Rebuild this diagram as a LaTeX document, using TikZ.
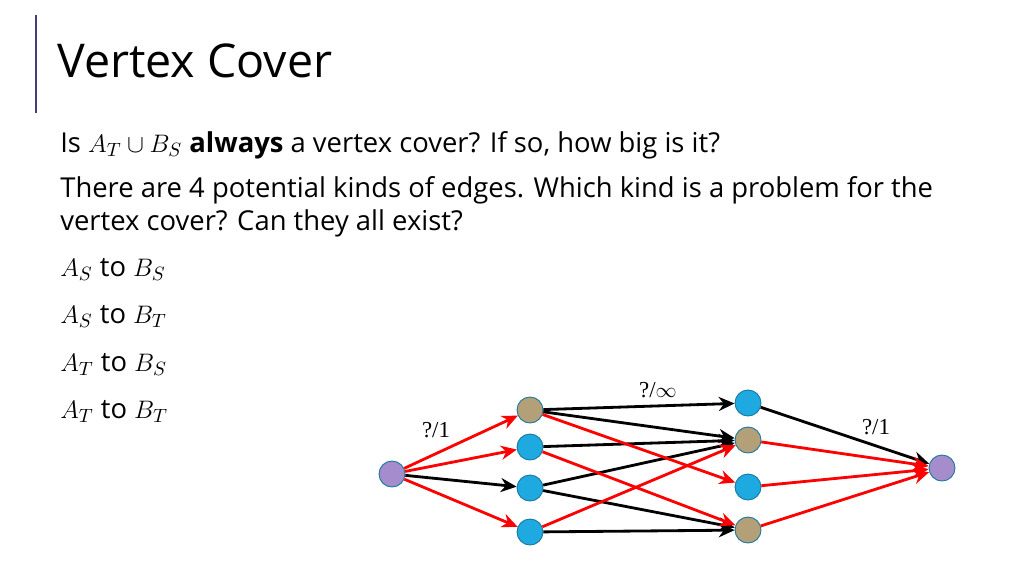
\documentclass[tikz,border=0pt]{standalone}
\usepackage{fontspec}
\setmainfont{Open Sans}
\newfontfamily\labfont{Liberation Serif}
\usetikzlibrary{arrows.meta}

\definecolor{vblue}{RGB}{30,170,225}
\definecolor{vtan}{RGB}{180,160,120}
\definecolor{vpurple}{RGB}{165,140,205}
\definecolor{vline}{RGB}{70,60,120}

\tikzset{
  vert/.style={circle,draw=vblue!70!black,line width=0.5pt,minimum size=26*0.02cm,inner sep=0pt},
  redge/.style={red,line width=1.6pt,-{Stealth[length=9pt,width=8pt]}},
  bedge/.style={black,line width=1.6pt,-{Stealth[length=9pt,width=8pt]}},
  body/.style={anchor=base west,inner sep=0pt,font=\fontsize{15.6}{18}\selectfont}
}

\begin{document}
\begin{tikzpicture}[x=0.02cm,y=-0.02cm]
\useasboundingbox (0,0) rectangle (1024,576);

\draw[vline,line width=1.2pt] (36,15) -- (36,113);
\node[anchor=base west,inner sep=0pt,font=\fontsize{26.5}{30}\selectfont] (title) at (57,77) {Vertex Cover};

\node[body] (q1) at (60,152) {Is $A_T\cup B_S$ \textbf{always} a vertex cover? If so, how big is it?};
\node[body] (q2) at (60,197) {There are 4 potential kinds of edges. Which kind is a problem for the};
\node[body] (q3) at (60,230) {vertex cover? Can they all exist?};
\node[body] (k1) at (60,276) {$A_S$ to $B_S$};
\node[body] (k2) at (60,323) {$A_S$ to $B_T$};
\node[body] (k3) at (60,371) {$A_T$ to $B_S$};
\node[body] (k4) at (60,418) {$A_T$ to $B_T$};

% vertices
\node[vert,fill=vpurple] (s) at (392,474) {};
\node[vert,fill=vtan] (a1) at (530,410) {};
\node[vert,fill=vblue] (a2) at (530,447) {};
\node[vert,fill=vblue] (a3) at (530,488) {};
\node[vert,fill=vblue] (a4) at (530,532) {};
\node[vert,fill=vblue] (b1) at (748,403) {};
\node[vert,fill=vtan] (b2) at (748,440) {};
\node[vert,fill=vblue] (b3) at (748,487) {};
\node[vert,fill=vtan] (b4) at (748,530) {};
\node[vert,fill=vpurple] (t) at (942,468) {};

% edges
\foreach \a in {a1,a2,a4} \draw[redge] (s) -- (\a);
\draw[bedge] (s) -- (a3);
\draw[bedge] (a1) -- (b1);
\draw[bedge] (a1) -- (b2);
\draw[bedge] (a2) -- (b2);
\draw[bedge] (a3) -- (b2);
\draw[bedge] (a3) -- (b4);
\draw[bedge] (a4) -- (b4);
\draw[redge] (a1) -- (b3);
\draw[redge] (a2) -- (b4);
\draw[redge] (a4) -- (b2);
\draw[bedge] (b1) -- (t);
\foreach \b in {b2,b3,b4} \draw[redge] (\b) -- (t);

\node[font=\labfont\fontsize{13}{15}\selectfont] (l1) at (436,430) {?/1};
\node[font=\labfont\fontsize{13}{15}\selectfont] (l2) at (658,390) {?/$\infty$};
\node[font=\labfont\fontsize{13}{15}\selectfont] (l3) at (876,427) {?/1};
\end{tikzpicture}
\end{document}
